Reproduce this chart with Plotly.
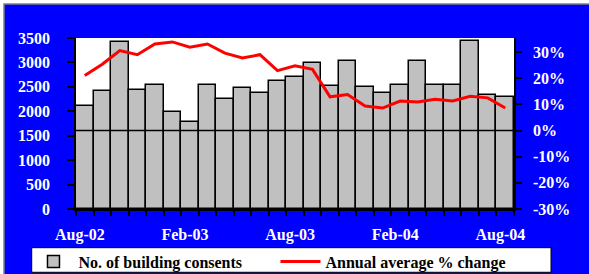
import plotly.graph_objects as go

months = ["Aug-02","Sep-02","Oct-02","Nov-02","Dec-02","Jan-03","Feb-03","Mar-03","Apr-03",
          "May-03","Jun-03","Jul-03","Aug-03","Sep-03","Oct-03","Nov-03","Dec-03","Jan-04",
          "Feb-04","Mar-04","Apr-04","May-04","Jun-04","Jul-04","Aug-04"]
consents = [2100, 2420, 3420, 2440, 2540, 1980, 1790, 2540, 2250, 2470, 2380, 2610, 2710,
            2990, 2510, 3020, 2490, 2380, 2530, 3020, 2530, 2530, 3440, 2340, 2300]
pct_change = [21.1, 25.4, 30.6, 29.0, 33.1, 33.9, 31.9, 33.1, 29.6, 27.8, 29.0, 22.9, 24.8,
              23.4, 12.9, 13.8, 9.4, 8.6, 11.3, 10.9, 12.0, 11.3, 13.1, 12.5, 8.6]
tick_labels = ["Aug-02", "Feb-03", "Aug-03", "Feb-04", "Aug-04"]
left_ticks = [0, 500, 1000, 1500, 2000, 2500, 3000, 3500]
right_ticks = [-30, -20, -10, 0, 10, 20, 30]

xs = list(range(len(months)))
label_idx = [months.index(m) for m in tick_labels]

FONT = dict(family="Liberation Serif", size=16, color="white", weight="bold")

fig = go.Figure()
fig.add_trace(go.Bar(x=xs, y=consents, name="No. of building consents",
                     marker=dict(color="#C0C0C0", line=dict(color="black", width=1.5)),
                     yaxis="y"))
fig.add_trace(go.Scatter(x=xs, y=pct_change, name="Annual average % change", mode="lines",
                         line=dict(color="#FF0000", width=3), yaxis="y2"))

fig.update_layout(
    width=589, height=274,
    margin=dict(l=76, r=75, t=38, b=65, autoexpand=False),
    paper_bgcolor="white", plot_bgcolor="white",
    bargap=0,
    showlegend=True,
    font=FONT,
    xaxis=dict(range=[-0.5, len(months) - 0.5], tickmode="array",
               tickvals=[i - 0.28 for i in label_idx], ticktext=tick_labels,
               ticks="", ticklen=0, showline=True, linecolor="black", linewidth=1.5,
               ticklabelstandoff=10, tickfont=FONT, showgrid=False, zeroline=False,
               minor=dict(tickmode="array", tickvals=[i - 0.5 for i in range(len(months) + 1)],
                          ticks="outside", ticklen=5, tickwidth=1.5, tickcolor="black")),
    yaxis=dict(range=[0, 3500], tickmode="array", tickvals=left_ticks,
               ticks="outside", ticklen=7, tickwidth=1.5, tickcolor="black",
               showline=True, linecolor="black", linewidth=1.5, showgrid=False,
               zeroline=False, tickfont=FONT, ticklabelstandoff=14),
    yaxis2=dict(range=[-30, 35.4], overlaying="y", side="right", tickmode="array",
                tickvals=right_ticks, ticktext=[f"{v}%" for v in right_ticks],
                ticks="outside", ticklen=6, tickwidth=1.5, tickcolor="black",
                showline=True, linecolor="black", linewidth=1.5, showgrid=False,
                zeroline=False, tickfont=FONT, ticklabelstandoff=8),
    legend=dict(orientation="h", x=-0.1085, y=-0.308, xanchor="left", yanchor="middle",
                bgcolor="rgba(0,0,0,0)", borderwidth=0,
                font=dict(family="Liberation Serif", size=16, color="black", weight="bold"),
                entrywidth=192, entrywidthmode="pixels", itemwidth=40),
    shapes=[
        dict(type="rect", xref="paper", yref="paper", x0=-0.1644, x1=1.2, y0=-0.45, y1=1.199,
             fillcolor="#0000FF", line=dict(color="#808080", width=1.5), layer="below"),
        dict(type="rect", xref="paper", yref="paper", x0=0, x1=1, y0=0, y1=1,
             fillcolor="white", line=dict(width=0), layer="below"),
        dict(type="line", xref="paper", yref="y2", x0=0, x1=1, y0=0, y1=0,
             line=dict(color="black", width=1.5), layer="above"),
        dict(type="rect", xref="paper", yref="paper", x0=-0.1011, x1=1.0845,
             y0=-0.370, y1=-0.2263, fillcolor="white",
             line=dict(color="black", width=1), layer="above"),
    ],
)

fig.write_html("out.html", config={"displayModeBar": False},
               post_script="document.body.style.margin='0';document.body.style.overflow='hidden';")
